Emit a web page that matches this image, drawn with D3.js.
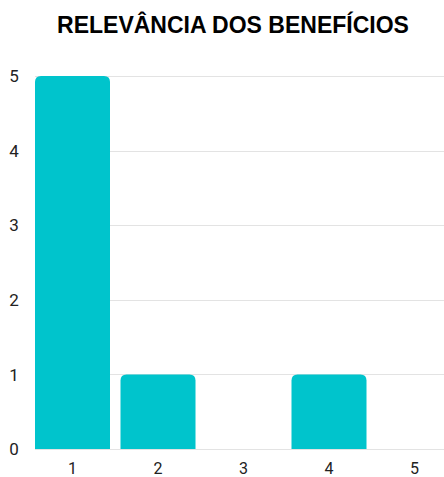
<!DOCTYPE html>
<html>
<head>
<meta charset="utf-8">
<script src="https://cdn.jsdelivr.net/npm/d3@7"></script>
<style>
  html, body { margin: 0; padding: 0; background: #fff; }
  svg { display: block; }
</style>
</head>
<body>
<svg id="chart" width="444" height="477"></svg>
<script>
// Chart data
const categories = ["1", "2", "3", "4", "5"];
const counts = [5, 1, 0, 1, 0];
const yTicks = [0, 1, 2, 3, 4, 5];
const title = "RELEVÂNCIA DOS BENEFÍCIOS";

const W = 444, H = 477;
const svg = d3.select("#chart");

const x = d3.scaleBand()
  .domain(categories)
  .range([35, 452])
  .paddingInner(10.5 / 85.5)
  .paddingOuter(0);

const y = d3.scaleLinear()
  .domain([0, 5])
  .range([449, 76]);

// Title
svg.append("text")
  .attr("x", 233)
  .attr("y", 33)
  .attr("text-anchor", "middle")
  .attr("font-family", "'Liberation Sans', Arial, sans-serif")
  .attr("font-weight", "bold")
  .attr("font-size", 23)
  .attr("fill", "#000")
  .text(title);

// Gridlines
svg.append("g")
  .selectAll("line")
  .data(yTicks)
  .join("line")
  .attr("x1", 35)
  .attr("x2", W)
  .attr("y1", d => Math.round(y(d)) + 0.5)
  .attr("y2", d => Math.round(y(d)) + 0.5)
  .attr("stroke", "#e3e3e3")
  .attr("stroke-width", 1);

// Y axis labels
svg.append("g")
  .selectAll("text")
  .data(yTicks)
  .join("text")
  .attr("x", 14)
  .attr("y", d => y(d))
  .attr("dy", "0.36em")
  .attr("text-anchor", "middle")
  .attr("font-family", "Roboto, sans-serif")
  .attr("font-size", 17)
  .attr("fill", "#222")
  .text(d => d);

// Bars with rounded top corners
const r = 6;
function barPath(x0, w, yTop, yBase) {
  const h = yBase - yTop;
  if (h <= 0) return "";
  const rr = Math.min(r, h, w / 2);
  return `M${x0},${yBase}V${yTop + rr}Q${x0},${yTop} ${x0 + rr},${yTop}` +
         `H${x0 + w - rr}Q${x0 + w},${yTop} ${x0 + w},${yTop + rr}V${yBase}Z`;
}

svg.append("g")
  .selectAll("path")
  .data(categories.map((c, i) => ({ c, v: counts[i] })))
  .join("path")
  .attr("d", d => barPath(x(d.c), x.bandwidth(), y(d.v), y(0)))
  .attr("fill", "#00c4cc");

// X axis labels
svg.append("g")
  .selectAll("text")
  .data(categories)
  .join("text")
  .attr("x", d => x(d) + x.bandwidth() / 2)
  .attr("y", 474)
  .attr("font-family", "Roboto, sans-serif")
  .attr("font-size", 16)
  .attr("text-anchor", "middle")
  .attr("fill", "#222")
  .text(d => d);
</script>
</body>
</html>
